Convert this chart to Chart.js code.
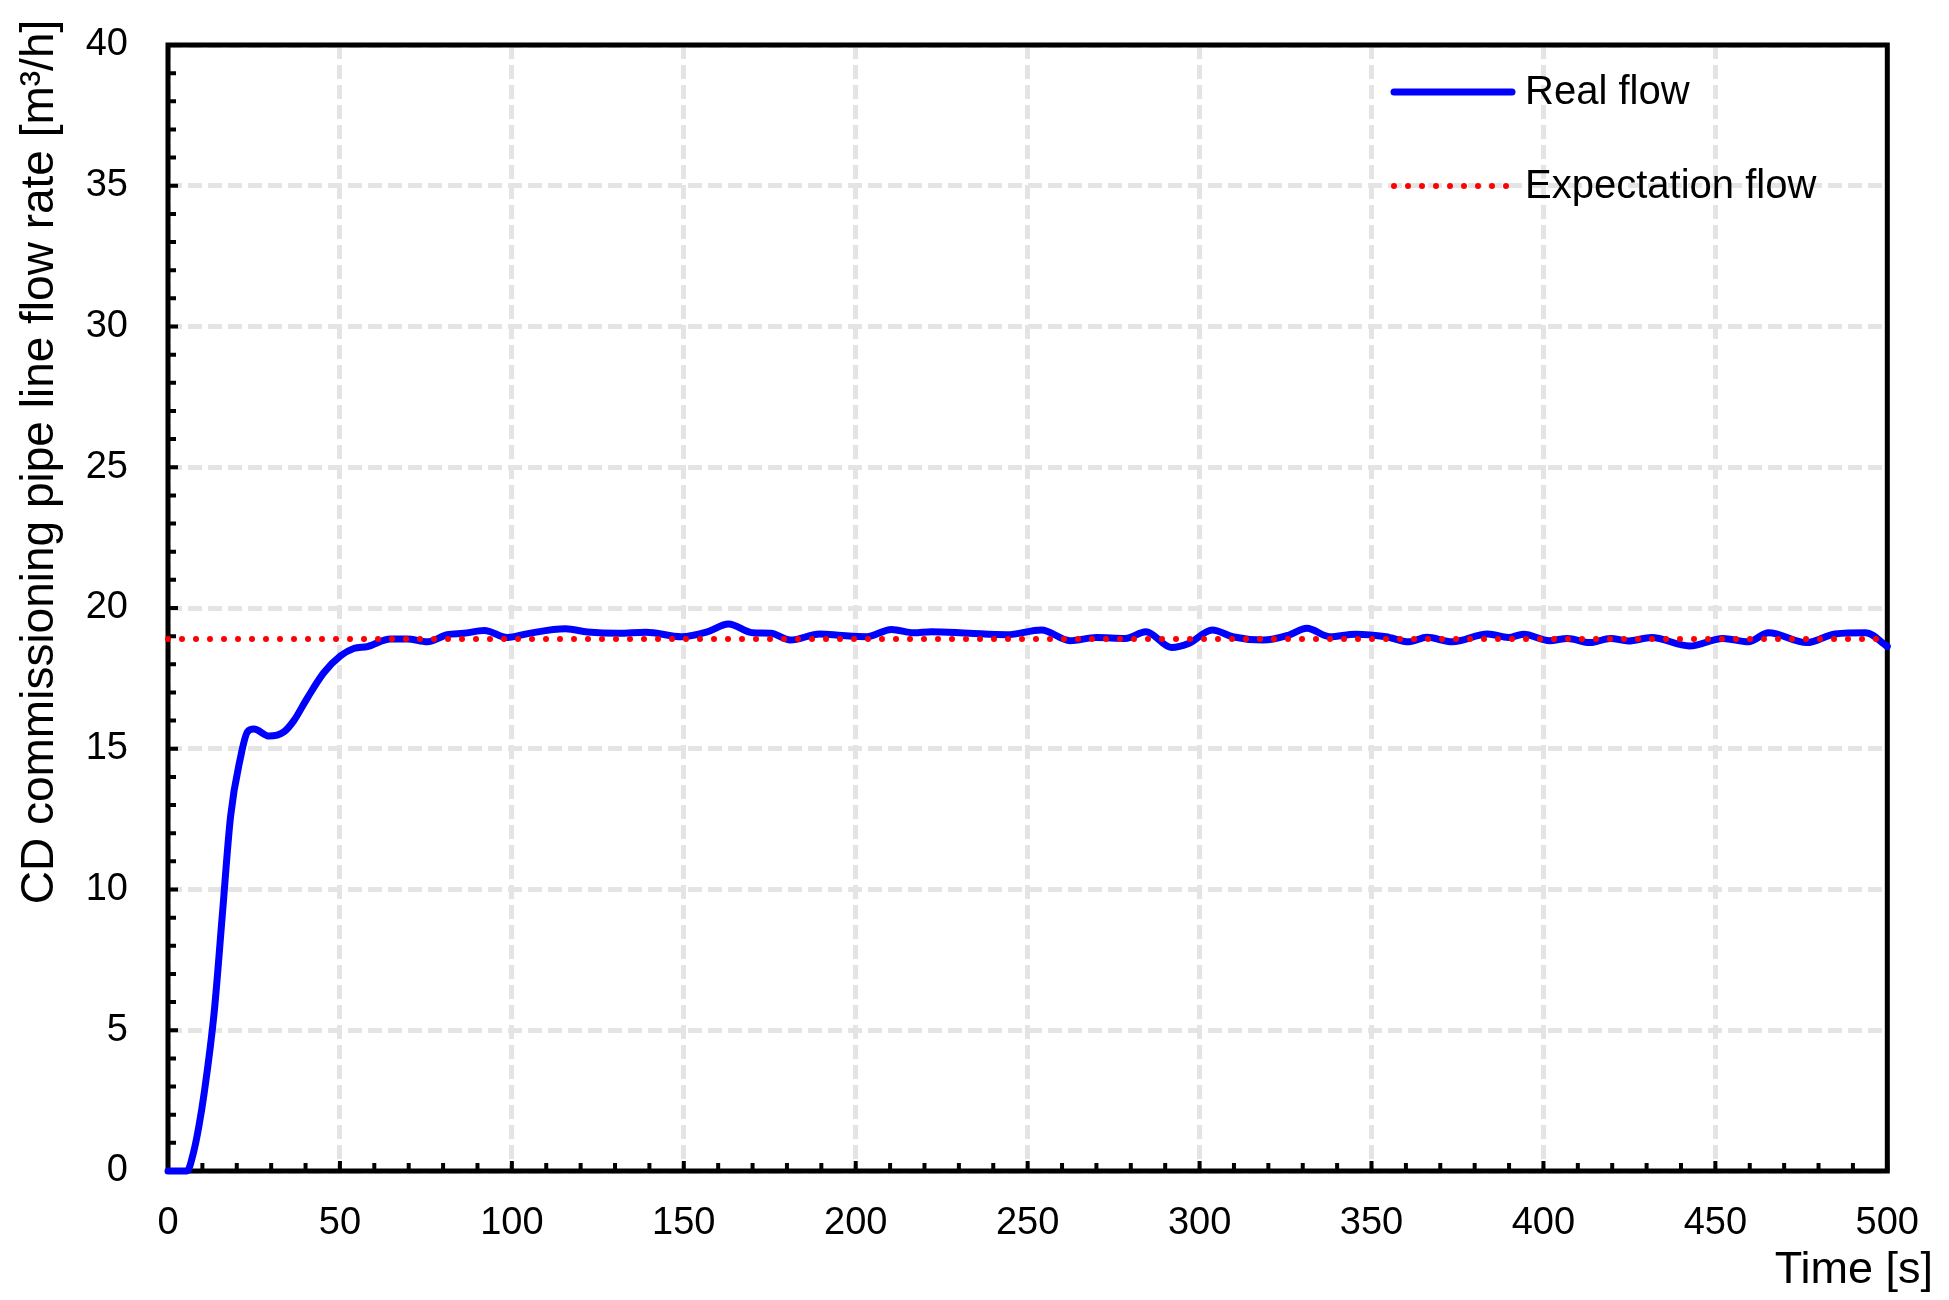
<!DOCTYPE html>
<html>
<head>
<meta charset="utf-8">
<script src="https://cdn.jsdelivr.net/npm/chart.js@4.4.1/dist/chart.umd.min.js"></script>
<style>
  html, body { margin: 0; padding: 0; background: #fff; }
  #wrap { width: 1949px; height: 1300px; position: relative; }
</style>
</head>
<body>
<div id="wrap"><canvas id="flowChart"></canvas></div>
<script>
const timeValues = [0, 5.5, 7.5, 9, 10.5, 13.4, 15.8, 18.2, 21.1, 23.1, 25, 29.4, 33.7, 36.6, 40.5, 45.3, 50.2, 54, 58, 64.7, 69.6, 75.4,
  81.2, 86, 92, 98.7, 105, 115.6, 122, 131, 139, 149.4, 157, 163, 170, 175.3, 181, 189.6, 196, 203.2, 210.4, 216.9,
  222, 233, 244, 254, 262.3, 270, 278.4, 284.4, 291.8, 297, 303.7, 309.6, 318.5, 326, 331.2, 337.9, 345.3, 354.2, 360.9,
  366.1, 373.5, 383.8, 389.8, 394.2, 401.8, 407, 413.6, 419.5, 424.7, 431.4, 442.5, 452.2, 459.6, 465.5, 476.6, 484.8,
  493.7, 500];
const realFlow = [0, 0, 0.7, 1.6, 2.75, 5.6, 9.1, 12.6, 14.7, 15.6, 15.7, 15.45, 15.6, 16.0, 16.8, 17.7, 18.3, 18.56, 18.63, 18.9, 18.9, 18.8,
  19.05, 19.1, 19.2, 18.95, 19.1, 19.26, 19.15, 19.1, 19.14, 18.98, 19.16, 19.43, 19.12, 19.1, 18.86, 19.08, 19.02, 18.98, 19.24, 19.12,
  19.16, 19.1, 19.05, 19.22, 18.84, 18.95, 18.92, 19.16, 18.6, 18.75, 19.22, 18.98, 18.86, 19.04, 19.28, 18.98, 19.07, 18.98, 18.8,
  18.96, 18.8, 19.08, 18.95, 19.07, 18.84, 18.92, 18.77, 18.92, 18.83, 18.95, 18.65, 18.92, 18.8, 19.12, 18.77, 19.08,
  19.12, 18.63];
const expectTimes = [0, 500];
const expectFlow = [18.9, 18.9];

const xTitle = 'Time [s]';
const yTitle = 'CD commissioning pipe line flow rate [m\u00B3/h]';
const FONT = "'Liberation Sans', Arial, sans-serif";

// box frame and inward tick marks (drawn under the curves)
const frame = {
  id: 'frame',
  beforeDatasetsDraw(chart) {
    const { ctx, chartArea: a, scales: { x, y } } = chart;
    ctx.save();
    ctx.strokeStyle = '#000';
    ctx.lineWidth = 4;
    ctx.beginPath();
    x.ticks.forEach(t => {
      const px = x.getPixelForValue(t.value);
      const len = t.value % 50 === 0 ? 10 : 8;
      ctx.moveTo(px, a.bottom);
      ctx.lineTo(px, a.bottom - len);
    });
    y.ticks.forEach(t => {
      const py = y.getPixelForValue(t.value);
      const len = t.value % 5 === 0 ? 10 : 8;
      ctx.moveTo(a.left, py);
      ctx.lineTo(a.left + len, py);
    });
    ctx.stroke();
    ctx.lineWidth = 5;
    ctx.strokeRect(a.left, a.top, a.right - a.left, a.bottom - a.top);
    ctx.restore();
  }
};

// legend inside the plot, top right
const insideLegend = {
  id: 'insideLegend',
  afterDraw(chart) {
    const ctx = chart.ctx;
    ctx.save();
    chart.data.datasets.forEach((ds, r) => {
      const yy = 92 + r * 94;
      ctx.beginPath();
      ctx.strokeStyle = ds.borderColor;
      ctx.lineWidth = ds.borderWidth;
      ctx.lineCap = ds.borderCapStyle || 'round';
      ctx.setLineDash(ds.borderDash || []);
      ctx.moveTo(1394, yy);
      ctx.lineTo(1512, yy);
      ctx.stroke();
      ctx.setLineDash([]);
      ctx.fillStyle = '#000';
      ctx.font = '40px ' + FONT;
      ctx.textAlign = 'left';
      ctx.textBaseline = 'middle';
      ctx.fillText(ds.label, 1525, yy + 1);
    });
    ctx.restore();
  }
};

// axis titles
const axisTitles = {
  id: 'axisTitles',
  afterDraw(chart) {
    const ctx = chart.ctx;
    ctx.save();
    ctx.fillStyle = '#000';
    ctx.font = '45px ' + FONT;
    ctx.textAlign = 'right';
    ctx.textBaseline = 'alphabetic';
    ctx.fillText(xTitle, 1933, 1283);
    ctx.font = '46px ' + FONT;
    ctx.translate(53, 462);
    ctx.rotate(-Math.PI / 2);
    ctx.textAlign = 'center';
    ctx.fillText(yTitle, 0, 0);
    ctx.restore();
  }
};

const gridColor = step => c => (c.tick && c.tick.value % step === 0) ? '#e4e4e4' : 'rgba(0,0,0,0)';

new Chart(document.getElementById('flowChart'), {
  type: 'line',
  data: {
    datasets: [{
      label: 'Real flow',
      data: timeValues.map((t, i) => ({ x: t, y: realFlow[i] })),
      borderColor: '#0000ff',
      borderWidth: 7,
      borderCapStyle: 'round',
      pointRadius: 0,
      cubicInterpolationMode: 'monotone',
      clip: 8,
      order: 1
    }, {
      label: 'Expectation flow',
      data: expectTimes.map((t, i) => ({ x: t, y: expectFlow[i] })),
      borderColor: '#ff0000',
      borderWidth: 6,
      borderDash: [0, 14],
      borderCapStyle: 'round',
      pointRadius: 0,
      clip: 8,
      order: 0
    }]
  },
  options: {
    responsive: true,
    maintainAspectRatio: false,
    animation: false,
    layout: { padding: { left: 0, top: 45, right: 61, bottom: 0 } },
    plugins: {
      legend: { display: false },
      tooltip: { enabled: false }
    },
    scales: {
      x: {
        type: 'linear',
        min: 0,
        max: 500,
        afterFit: s => { s.height = 129; },
        ticks: {
          stepSize: 10,
          autoSkip: false,
          maxRotation: 0,
          padding: 30,
          color: '#000',
          font: { family: FONT, size: 38 },
          callback: v => v % 50 === 0 ? v : ''
        },
        grid: { color: gridColor(50), lineWidth: 5, drawTicks: false },
        border: { display: false, dash: [14, 6] }
      },
      y: {
        min: 0,
        max: 40,
        afterFit: s => { s.width = 168; s.paddingTop = 0; s.paddingBottom = 0; },
        ticks: {
          stepSize: 1,
          autoSkip: false,
          padding: 40,
          color: '#000',
          font: { family: FONT, size: 38 },
          callback: v => v % 5 === 0 ? v : ''
        },
        grid: { color: gridColor(5), lineWidth: 5, drawTicks: false },
        border: { display: false, dash: [14, 6] }
      }
    }
  },
  plugins: [frame, insideLegend, axisTitles]
});
</script>
</body>
</html>
